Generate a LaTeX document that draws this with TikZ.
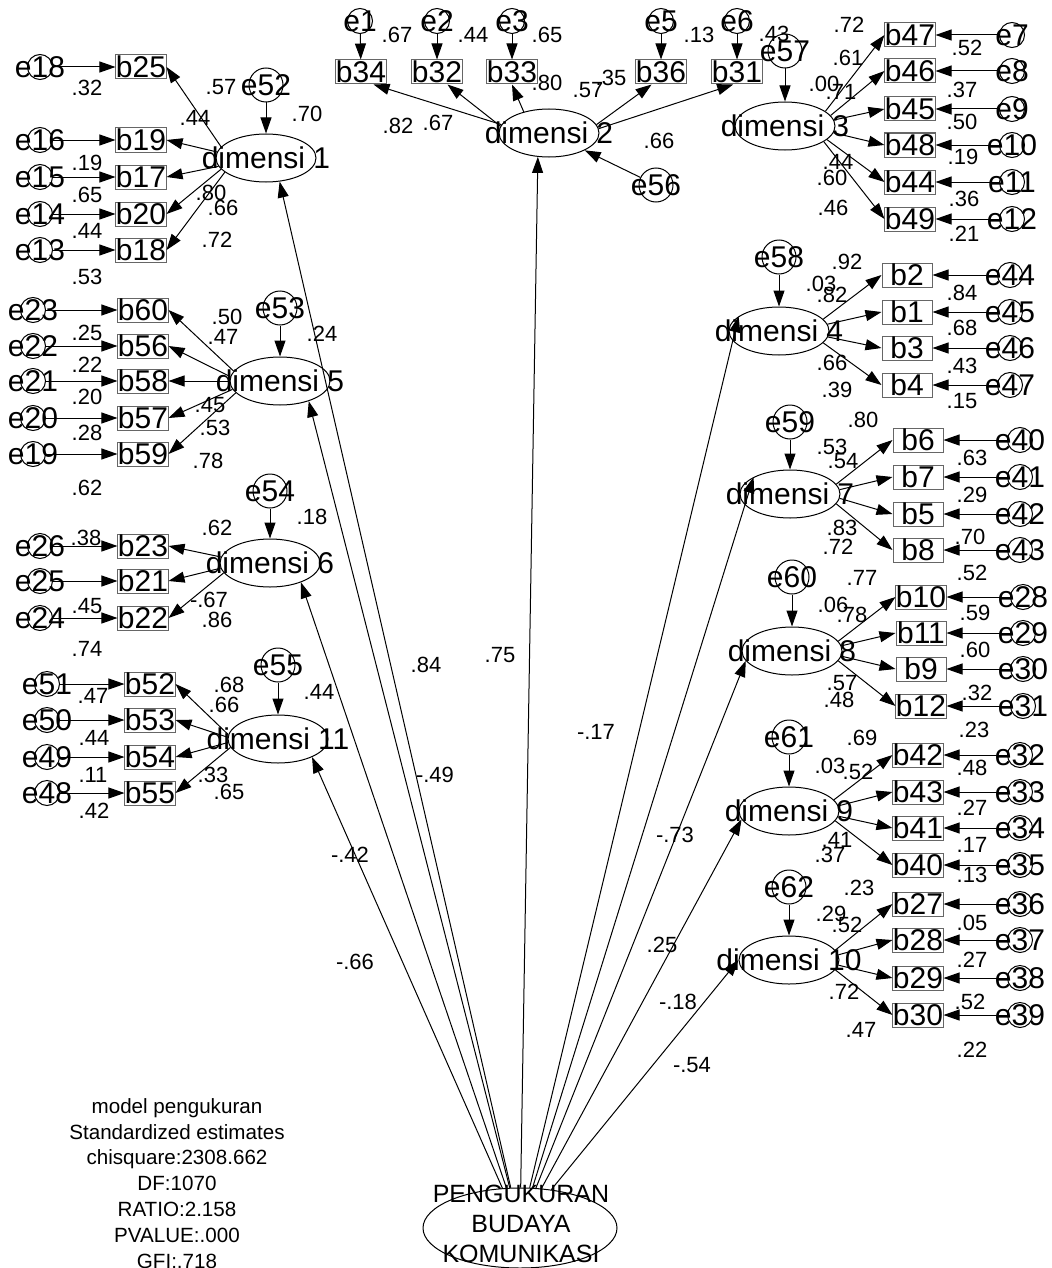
\documentclass[tikz,border=0pt]{standalone}
\usepackage{fontspec}
\setmainfont{Liberation Sans}
\usetikzlibrary{arrows.meta,shapes.geometric}

\begin{document}
\begin{tikzpicture}[x=0.5pt,y=-0.5pt]
\tikzset{zw/.style={execute at begin node={\hbox to 0pt\bgroup\hss},execute at end node={\hss\egroup}},
         obs/.style={rectangle,draw=black!60,line width=0.5pt,minimum width=25pt,minimum height=12pt,inner sep=0pt,font=\fontsize{15}{15}\selectfont},
         err/.style={circle,draw,line width=0.5pt,minimum size=12.5pt,inner sep=0pt,zw,font=\fontsize{15}{15}\selectfont},
         res/.style={circle,draw,line width=0.5pt,minimum size=17pt,inner sep=0pt,zw,font=\fontsize{15}{15}\selectfont},
         lat/.style={ellipse,draw,line width=0.5pt,minimum width=50pt,minimum height=24pt,inner sep=0pt,zw,font=\fontsize{15}{15}\selectfont},
         lab/.style={inner sep=0pt,font=\fontsize{11}{11}\selectfont},
         arr/.style={-{Triangle[length=8pt,width=5.5pt]},line width=0.5pt}}
\useasboundingbox (0,0) rectangle (1051,1268);

% dimensi 1
\node[err] (e18) at (40,67) {e18};
\node[err] (e16) at (40,140) {e16};
\node[err] (e15) at (40,177) {e15};
\node[err] (e14) at (40,214) {e14};
\node[err] (e13) at (40,250) {e13};
\node[obs] (b25) at (141,67) {b25};
\node[obs] (b19) at (141,140) {b19};
\node[obs] (b17) at (141,177) {b17};
\node[obs] (b20) at (141,214) {b20};
\node[obs] (b18) at (141,250) {b18};
\node[res] (e52) at (266,85) {e52};
\node[lat] (d1) at (266,158) {dimensi 1};
\draw[arr] (e18)--(b25);
\draw[arr] (e16)--(b19);
\draw[arr] (e15)--(b17);
\draw[arr] (e14)--(b20);
\draw[arr] (e13)--(b18);
\draw[arr] (e52)--(d1);
\draw[arr] (d1.166)--(b25.east);
\draw[arr] (d1.173)--(b19.east);
\draw[arr] (d1.-170)--(b17.east);
\draw[arr] (d1.-166)--(b20.east);
\draw[arr] (d1.-161)--(b18.east);

% dimensi 5
\node[err] (e23) at (33,310) {e23};
\node[err] (e22) at (33,346) {e22};
\node[err] (e21) at (33,381) {e21};
\node[err] (e20) at (33,418) {e20};
\node[err] (e19) at (33,454) {e19};
\node[obs] (b60) at (143,310) {b60};
\node[obs] (b56) at (143,346) {b56};
\node[obs] (b58) at (143,381) {b58};
\node[obs] (b57) at (143,418) {b57};
\node[obs] (b59) at (143,454) {b59};
\node[res] (e53) at (280,308) {e53};
\node[lat] (d5) at (280,381) {dimensi 5};
\draw[arr] (e23)--(b60);
\draw[arr] (e22)--(b56);
\draw[arr] (e21)--(b58);
\draw[arr] (e20)--(b57);
\draw[arr] (e19)--(b59);
\draw[arr] (e53)--(d5);
\draw[arr] (d5.168)--(b60.east);
\draw[arr] (d5.175)--(b56.east);
\draw[arr] (d5.180)--(b58.east);
\draw[arr] (d5.-170)--(b57.east);
\draw[arr] (d5.-165)--(b59.east);

% dimensi 6
\node[err] (e26) at (40,546) {e26};
\node[err] (e25) at (40,581) {e25};
\node[err] (e24) at (40,618) {e24};
\node[obs] (b23) at (143,546) {b23};
\node[obs] (b21) at (143,581) {b21};
\node[obs] (b22) at (143,618) {b22};
\node[res] (e54) at (270,491) {e54};
\node[lat] (d6) at (270,563) {dimensi 6};
\draw[arr] (e26)--(b23);
\draw[arr] (e25)--(b21);
\draw[arr] (e24)--(b22);
\draw[arr] (e54)--(d6);
\draw[arr] (d6.173)--(b23.east);
\draw[arr] (d6.-174)--(b21.east);
\draw[arr] (d6.-168)--(b22.east);

% dimensi 11
\node[err] (e51) at (47,684) {e51};
\node[err] (e50) at (47,720) {e50};
\node[err] (e49) at (47,757) {e49};
\node[err] (e48) at (47,793) {e48};
\node[obs] (b52) at (150,684) {b52};
\node[obs] (b53) at (150,720) {b53};
\node[obs] (b54) at (150,757) {b54};
\node[obs] (b55) at (150,793) {b55};
\node[res] (e55) at (278,665) {e55};
\node[lat] (d11) at (278,739) {dimensi 11};
\draw[arr] (e51)--(b52);
\draw[arr] (e50)--(b53);
\draw[arr] (e49)--(b54);
\draw[arr] (e48)--(b55);
\draw[arr] (e55)--(d11);
\draw[arr] (d11.175)--(b52.east);
\draw[arr] (d11.178)--(b53.east);
\draw[arr] (d11.-176)--(b54.east);
\draw[arr] (d11.-170)--(b55.east);

% dimensi 2
\node[err] (e1) at (360,21) {e1};
\node[err] (e2) at (437,21) {e2};
\node[err] (e3) at (512,21) {e3};
\node[err] (e5) at (661,21) {e5};
\node[err] (e6) at (737,21) {e6};
\node[obs] (b34) at (361,72) {b34};
\node[obs] (b32) at (437,72) {b32};
\node[obs] (b33) at (512,72) {b33};
\node[obs] (b36) at (661,72) {b36};
\node[obs] (b31) at (737,72) {b31};
\node[res] (e56) at (656,185) {e56};
\node[lat] (d2) at (549,133) {dimensi 2};
\draw[arr] (e1)--(b34);
\draw[arr] (e2)--(b32);
\draw[arr] (e3)--(b33);
\draw[arr] (e5)--(b36);
\draw[arr] (e6)--(b31);
\draw[arr] (e56)--(d2);
\draw[arr] (d2.170)--(b34.-45);
\draw[arr] (d2.172)--(b32.-50);
\draw[arr] (d2.140)--(b33.south);
\draw[arr] (d2.10)--(b36.-127);
\draw[arr] (d2.5)--(b31.-107);

% dimensi 3
\node[res] (e57) at (785,51) {e57};
\node[lat] (d3) at (785,126) {dimensi 3};
\node[obs] (b47) at (910,35) {b47};
\node[obs] (b46) at (910,71) {b46};
\node[obs] (b45) at (910,109) {b45};
\node[obs] (b48) at (910,145) {b48};
\node[obs] (b44) at (910,182) {b44};
\node[obs] (b49) at (910,219) {b49};
\node[err] (e7) at (1012,35) {e7};
\node[err] (e8) at (1012,71) {e8};
\node[err] (e9) at (1012,109) {e9};
\node[err] (e10) at (1012,145) {e10};
\node[err] (e11) at (1012,182) {e11};
\node[err] (e12) at (1012,219) {e12};
\draw[arr] (e57)--(d3);
\draw[arr] (e7)--(b47);
\draw[arr] (e8)--(b46);
\draw[arr] (e9)--(b45);
\draw[arr] (e10)--(b48);
\draw[arr] (e11)--(b44);
\draw[arr] (e12)--(b49);
\draw[arr] (d3.20)--(b47.west);
\draw[arr] (d3.13)--(b46.west);
\draw[arr] (d3.7)--(b45.west);
\draw[arr] (d3.-8)--(b48.west);
\draw[arr] (d3.-18)--(b44.west);
\draw[arr] (d3.-22)--(b49.west);

% dimensi 4
\node[res] (e58) at (779,257) {e58};
\node[lat] (d4) at (779,331) {dimensi 4};
\node[obs] (b2) at (907,275) {b2};
\node[obs] (b1) at (907,312) {b1};
\node[obs] (b3) at (907,348) {b3};
\node[obs] (b4) at (907,385) {b4};
\node[err] (e44) at (1010,275) {e44};
\node[err] (e45) at (1010,312) {e45};
\node[err] (e46) at (1010,348) {e46};
\node[err] (e47) at (1010,385) {e47};
\draw[arr] (e58)--(d4);
\draw[arr] (e44)--(b2);
\draw[arr] (e45)--(b1);
\draw[arr] (e46)--(b3);
\draw[arr] (e47)--(b4);
\draw[arr] (d4.15)--(b2.west);
\draw[arr] (d4.8)--(b1.west);
\draw[arr] (d4.-7)--(b3.west);
\draw[arr] (d4.-15)--(b4.west);

% dimensi 7
\node[res] (e59) at (790,422) {e59};
\node[lat] (d7) at (790,494) {dimensi 7};
\node[obs] (b6) at (918,440) {b6};
\node[obs] (b7) at (918,477) {b7};
\node[obs] (b5) at (918,514) {b5};
\node[obs] (b8) at (918,550) {b8};
\node[err] (e40) at (1020,440) {e40};
\node[err] (e41) at (1020,477) {e41};
\node[err] (e42) at (1020,514) {e42};
\node[err] (e43) at (1020,550) {e43};
\draw[arr] (e59)--(d7);
\draw[arr] (e40)--(b6);
\draw[arr] (e41)--(b7);
\draw[arr] (e42)--(b5);
\draw[arr] (e43)--(b8);
\draw[arr] (d7.12)--(b6.west);
\draw[arr] (d7.5)--(b7.west);
\draw[arr] (d7.-5)--(b5.west);
\draw[arr] (d7.-12)--(b8.west);

% dimensi 8
\node[res] (e60) at (792,577) {e60};
\node[lat] (d8) at (792,651) {dimensi 8};
\node[obs] (b10) at (921,597) {b10};
\node[obs] (b11) at (921,633) {b11};
\node[obs] (b9) at (921,669) {b9};
\node[obs] (b12) at (921,706) {b12};
\node[err] (e28) at (1023,597) {e28};
\node[err] (e29) at (1023,633) {e29};
\node[err] (e30) at (1023,669) {e30};
\node[err] (e31) at (1023,706) {e31};
\draw[arr] (e60)--(d8);
\draw[arr] (e28)--(b10);
\draw[arr] (e29)--(b11);
\draw[arr] (e30)--(b9);
\draw[arr] (e31)--(b12);
\draw[arr] (d8.12)--(b10.west);
\draw[arr] (d8.6)--(b11.west);
\draw[arr] (d8.-6)--(b9.west);
\draw[arr] (d8.-12)--(b12.west);

% dimensi 9
\node[res] (e61) at (789,737) {e61};
\node[lat] (d9) at (789,811) {dimensi 9};
\node[obs] (b42) at (918,755) {b42};
\node[obs] (b43) at (918,792) {b43};
\node[obs] (b41) at (918,828) {b41};
\node[obs] (b40) at (918,865) {b40};
\node[err] (e32) at (1020,755) {e32};
\node[err] (e33) at (1020,792) {e33};
\node[err] (e34) at (1020,828) {e34};
\node[err] (e35) at (1020,865) {e35};
\draw[arr] (e61)--(d9);
\draw[arr] (e32)--(b42);
\draw[arr] (e33)--(b43);
\draw[arr] (e34)--(b41);
\draw[arr] (e35)--(b40);
\draw[arr] (d9.14)--(b42.west);
\draw[arr] (d9.6)--(b43.west);
\draw[arr] (d9.-6)--(b41.west);
\draw[arr] (d9.-12)--(b40.west);

% dimensi 10
\node[res] (e62) at (789,887) {e62};
\node[lat] (d10) at (789,960) {dimensi 10};
\node[obs] (b27) at (918,904) {b27};
\node[obs] (b28) at (918,940) {b28};
\node[obs] (b29) at (918,978) {b29};
\node[obs] (b30) at (918,1015) {b30};
\node[err] (e36) at (1020,904) {e36};
\node[err] (e37) at (1020,940) {e37};
\node[err] (e38) at (1020,978) {e38};
\node[err] (e39) at (1020,1015) {e39};
\draw[arr] (e62)--(d10);
\draw[arr] (e36)--(b27);
\draw[arr] (e37)--(b28);
\draw[arr] (e38)--(b29);
\draw[arr] (e39)--(b30);
\draw[arr] (d10.12)--(b27.west);
\draw[arr] (d10.6)--(b28.west);
\draw[arr] (d10.-6)--(b29.west);
\draw[arr] (d10.-12)--(b30.west);

% second order factor
\node[ellipse,draw,line width=0.5pt,minimum width=97pt,minimum height=40pt,inner sep=0pt] (peng) at (520,1228) {};
\node[align=center,inner sep=0pt,font=\fontsize{12.5}{15}\selectfont] (pengt) at (521,1224) {PENGUKURAN\\BUDAYA\\KOMUNIKASI};
\draw[arr] (peng)--(d11.-28);
\draw[arr] (peng)--(d6.-32);
\draw[arr] (peng)--(d5.-35);
\draw[arr] (peng)--(d1.-60);
\draw[arr] (peng)--(d2.-115);
\draw[arr] (peng)--(d4.160);
\draw[arr] (peng)--(d7.155);
\draw[arr] (peng)--(d8.-168);
\draw[arr] (peng)--(d9.-170);
\draw[arr] (peng)--(d10.180);

% estimates
\node[lab] (t1a) at (87,88) {.32};
\node[lab] (t1b) at (87,163) {.19};
\node[lab] (t1c) at (87,195) {.65};
\node[lab] (t1d) at (87,231) {.44};
\node[lab] (t1e) at (87,277) {.53};
\node[lab] (t1f) at (221,87) {.57};
\node[lab] (t1g) at (195,118) {.44};
\node[lab] (t1h) at (211,193) {.80};
\node[lab] (t1i) at (223,208) {.66};
\node[lab] (t1j) at (217,240) {.72};
\node[lab] (t1k) at (307,114) {.70};
\node[lab] (t5a) at (87,333) {.25};
\node[lab] (t5b) at (87,365) {.22};
\node[lab] (t5c) at (87,397) {.20};
\node[lab] (t5d) at (87,433) {.28};
\node[lab] (t5e) at (87,488) {.62};
\node[lab] (t5f) at (227,317) {.50};
\node[lab] (t5g) at (223,337) {.47};
\node[lab] (t5h) at (210,405) {.45};
\node[lab] (t5i) at (215,428) {.53};
\node[lab] (t5j) at (208,461) {.78};
\node[lab] (t5k) at (322,334) {.24};
\node[lab] (t6a) at (86,538) {.38};
\node[lab] (t6b) at (87,606) {.45};
\node[lab] (t6c) at (87,649) {.74};
\node[lab] (t6d) at (217,528) {.62};
\node[lab] (t6e) at (209,600) {-.67};
\node[lab] (t6f) at (217,620) {.86};
\node[lab] (t6g) at (312,517) {.18};
\node[lab] (t11a) at (93,696) {.47};
\node[lab] (t11b) at (94,738) {.44};
\node[lab] (t11c) at (93,775) {.11};
\node[lab] (t11d) at (94,811) {.42};
\node[lab] (t11e) at (229,685) {.68};
\node[lab] (t11f) at (224,705) {.66};
\node[lab] (t11g) at (213,775) {.33};
\node[lab] (t11h) at (229,792) {.65};
\node[lab] (t11i) at (319,692) {.44};
\node[lab] (t2a) at (397,35) {.67};
\node[lab] (t2b) at (473,35) {.44};
\node[lab] (t2c) at (547,35) {.65};
\node[lab] (t2d) at (699,35) {.13};
\node[lab] (t2e) at (774,34) {.43};
\node[lab] (t2f) at (547,83) {.80};
\node[lab] (t2g) at (588,90) {.57};
\node[lab] (t2h) at (611,78) {.35};
\node[lab] (t2i) at (398,126) {.82};
\node[lab] (t2j) at (438,123) {.67};
\node[lab] (t2k) at (659,141) {.66};
\node[lab] (t3a) at (849,25) {.72};
\node[lab] (t3b) at (848,58) {.61};
\node[lab] (t3c) at (824,84) {.00};
\node[lab] (t3d) at (841,92) {.71};
\node[lab] (t3e) at (838,162) {.44};
\node[lab] (t3f) at (832,178) {.60};
\node[lab] (t3g) at (833,208) {.46};
\node[lab] (t3h) at (967,48) {.52};
\node[lab] (t3i) at (962,90) {.37};
\node[lab] (t3j) at (962,122) {.50};
\node[lab] (t3k) at (963,157) {.19};
\node[lab] (t3l) at (964,199) {.36};
\node[lab] (t3m) at (964,234) {.21};
\node[lab] (t4a) at (847,262) {.92};
\node[lab] (t4b) at (821,284) {.03};
\node[lab] (t4c) at (832,295) {.82};
\node[lab] (t4d) at (832,363) {.66};
\node[lab] (t4e) at (837,390) {.39};
\node[lab] (t4f) at (962,293) {.84};
\node[lab] (t4g) at (962,328) {.68};
\node[lab] (t4h) at (962,366) {.43};
\node[lab] (t4i) at (962,401) {.15};
\node[lab] (t7a) at (863,420) {.80};
\node[lab] (t7b) at (832,447) {.53};
\node[lab] (t7c) at (843,461) {.54};
\node[lab] (t7d) at (842,528) {.83};
\node[lab] (t7e) at (838,547) {.72};
\node[lab] (t7f) at (972,458) {.63};
\node[lab] (t7g) at (972,495) {.29};
\node[lab] (t7h) at (970,537) {.70};
\node[lab] (t8a) at (862,578) {.77};
\node[lab] (t8b) at (833,605) {.06};
\node[lab] (t8c) at (852,615) {.78};
\node[lab] (t8d) at (842,683) {.57};
\node[lab] (t8e) at (839,700) {.48};
\node[lab] (t8f) at (972,573) {.52};
\node[lab] (t8g) at (975,613) {.59};
\node[lab] (t8h) at (975,650) {.60};
\node[lab] (t8i) at (977,693) {.32};
\node[lab] (t8j) at (974,730) {.23};
\node[lab] (t9a) at (862,738) {.69};
\node[lab] (t9b) at (830,766) {.03};
\node[lab] (t9c) at (858,772) {.52};
\node[lab] (t9d) at (837,840) {.41};
\node[lab] (t9e) at (830,855) {.37};
\node[lab] (t9f) at (972,768) {.48};
\node[lab] (t9g) at (972,808) {.27};
\node[lab] (t9h) at (972,845) {.17};
\node[lab] (t9i) at (972,875) {.13};
\node[lab] (t10a) at (859,888) {.23};
\node[lab] (t10b) at (831,914) {.29};
\node[lab] (t10c) at (847,925) {.52};
\node[lab] (t10d) at (844,992) {.72};
\node[lab] (t10e) at (861,1030) {.47};
\node[lab] (t10f) at (972,923) {.05};
\node[lab] (t10g) at (972,960) {.27};
\node[lab] (t10h) at (970,1002) {.52};
\node[lab] (t10i) at (972,1050) {.22};
\node[lab] (tpa) at (426,665) {.84};
\node[lab] (tpb) at (500,655) {.75};
\node[lab] (tpc) at (596,732) {-.17};
\node[lab] (tpd) at (435,775) {-.49};
\node[lab] (tpe) at (350,855) {-.42};
\node[lab] (tpf) at (675,835) {-.73};
\node[lab] (tpg) at (662,945) {.25};
\node[lab] (tph) at (355,962) {-.66};
\node[lab] (tpi) at (678,1002) {-.18};
\node[lab] (tpj) at (692,1065) {-.54};

% fit summary
\node[align=center,anchor=north,inner sep=0pt,font=\fontsize{10.3}{12.9}\selectfont] (info) at (177,1098) {model pengukuran\\Standardized estimates\\chisquare:2308.662\\DF:1070\\RATIO:2.158\\PVALUE:.000\\GFI:.718};
\end{tikzpicture}
\end{document}
